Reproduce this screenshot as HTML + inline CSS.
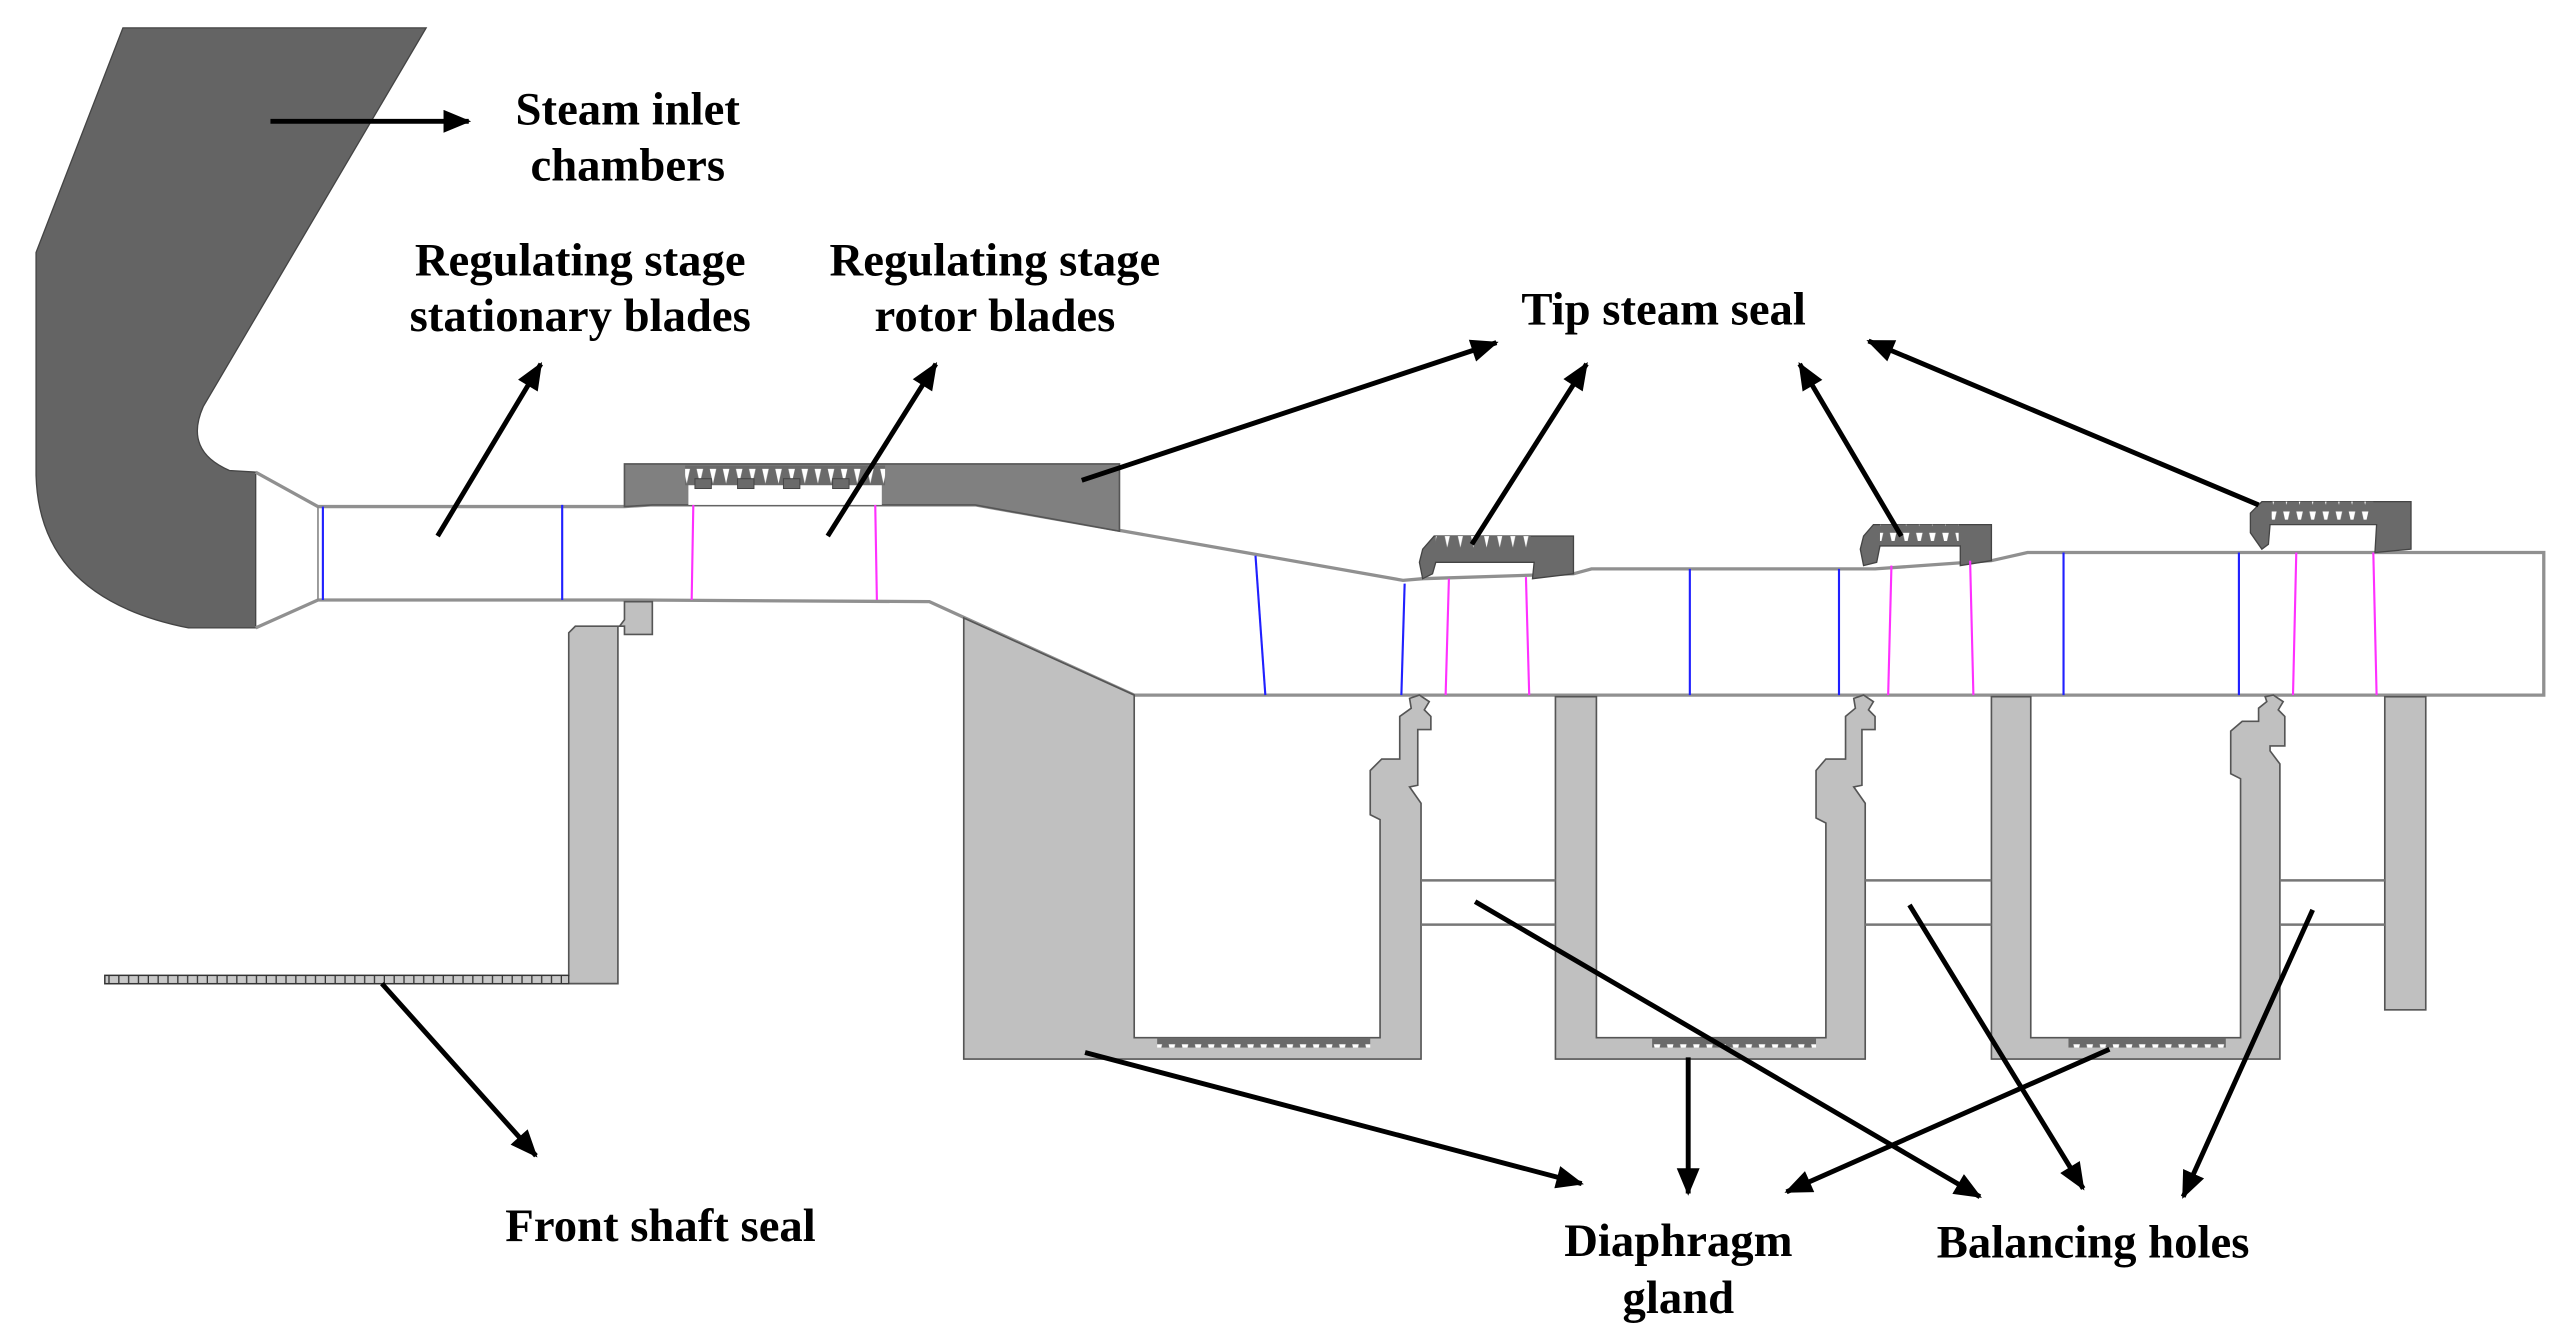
<!DOCTYPE html>
<html><head><meta charset="utf-8"><style>
html,body{margin:0;padding:0;background:#fff;}
svg{display:block;}
text{font-family:"Liberation Serif",serif;font-weight:bold;font-size:28.5px;fill:#000;text-anchor:middle;}
</style></head><body>
<svg width="2570" height="1341" viewBox="0 0 1568 818" preserveAspectRatio="none" xmlns="http://www.w3.org/2000/svg">
<defs>
<marker id="a" viewBox="0 0 12 10" refX="11" refY="5" markerWidth="17" markerHeight="14" markerUnits="userSpaceOnUse" orient="auto"><path d="M0,0 L12,5 L0,10 z" fill="#000"/></marker>
<pattern id="teeth" width="8" height="13" patternUnits="userSpaceOnUse"><rect width="8" height="13" fill="#6a6a6a"/><path d="M1,0 L3,9 L5,0 z" fill="#fff"/></pattern>
<pattern id="st" width="6" height="5" patternUnits="userSpaceOnUse"><rect width="6" height="5" fill="#c8c8c8"/><line x1="0.5" y1="0" x2="0.5" y2="5" stroke="#333" stroke-width="0.8"/></pattern>
</defs>

<path d="M75,17 L260,17 L124,248 Q112,275 140,287 L156,288 L156,383 L115,383 Q24,365 22,290 L22,154 Z" fill="#646464" stroke="#444" stroke-width="0.8"/>

<g fill="none" stroke="#909090" stroke-width="2">
<path d="M156,288 L194,309 L381,309 L398,308 L595,308 L856,354 L868,353 L960,350 L971,347 L1144,347 L1215,342 L1237,337 L1552,337 L1552,424 L692,424 L567,367 L389,366 L194,366 L156,383"/>
</g>
<line x1="194" y1="309" x2="194" y2="366" stroke="#888" stroke-width="1"/>

<path d="M381,283 L683,283 L683,324 L595,308 L398,308 L381,309 Z" fill="#808080" stroke="#555" stroke-width="1"/>
<rect x="418" y="284" width="122" height="12" fill="url(#teeth)"/>
<rect x="420" y="296" width="118" height="12" fill="#fff"/>
<g fill="#6a6a6a" stroke="#444" stroke-width="0.6">
<rect x="424" y="292" width="10" height="6"/><rect x="450" y="292" width="10" height="6"/><rect x="478" y="292" width="10" height="6"/><rect x="508" y="292" width="10" height="6"/>
</g>

<g fill="#6a6a6a" stroke="#444" stroke-width="0.8">
<path d="M868,353 L866,343 L868,335 L875,327 L960,327 L960,350 L935,353 L936,343 L876,343 L874,350 Z"/>
<path d="M1137,345 L1135,335 L1137,327 L1143,320 L1215,320 L1215,342 L1196,345 L1196,333 L1147,333 L1145,343 Z"/>
<path d="M1380,335 L1373,325 L1373,313 L1380,306 L1471,306 L1471,335 L1449,337 L1450,320 L1385,320 L1384,332 Z"/>
</g>
<rect x="876" y="327" width="58" height="10" fill="url(#teeth)"/>
<rect x="1147" y="320" width="48" height="10" fill="url(#teeth)"/>
<rect x="1386" y="306" width="62" height="11" fill="url(#teeth)"/>

<g stroke="#2020ff" stroke-width="1.3">
<line x1="197" y1="309" x2="197" y2="366"/><line x1="343" y1="308" x2="343" y2="366"/>
<line x1="766" y1="339" x2="772" y2="424"/><line x1="857" y1="356" x2="855" y2="424"/>
<line x1="1031" y1="347" x2="1031" y2="424"/><line x1="1122" y1="347" x2="1122" y2="424"/>
<line x1="1259" y1="337" x2="1259" y2="424"/><line x1="1366" y1="337" x2="1366" y2="424"/>
</g>
<g stroke="#ff30ff" stroke-width="1.3">
<line x1="423" y1="308" x2="422" y2="366"/><line x1="534" y1="308" x2="535" y2="366"/>
<line x1="884" y1="353" x2="882" y2="424"/><line x1="931" y1="352" x2="933" y2="424"/>
<line x1="1154" y1="345" x2="1152" y2="424"/><line x1="1202" y1="342" x2="1204" y2="424"/>
<line x1="1401" y1="337" x2="1399" y2="424"/><line x1="1448" y1="337" x2="1450" y2="424"/>
</g>

<g fill="#c0c0c0" stroke="#555" stroke-width="1">
<path d="M381,367 L398,367 L398,387 L381,387 L381,382 L377,382 L377,600 L64,600 L64,595 L347,595 L347,386 L351,382 L378,382 L381,378 Z"/>
<path d="M588,377 L692,424 L692,633 L842,633 L842,500 L836,497 L836,470 L843,463 L854,463 L854,437 L861,432 L860,426 L866,424 L872,428 L869,433 L873,437 L873,445 L865,445 L865,479 L860,480 L867,490 L867,646 L588,646 Z"/>
<path d="M949,425 L974,425 L974,633 L1114,633 L1114,502 L1108,499 L1108,470 L1114,463 L1126,463 L1126,437 L1132,432 L1131,426 L1137,424 L1143,428 L1140,433 L1144,437 L1144,445 L1136,445 L1136,479 L1131,480 L1138,490 L1138,646 L949,646 Z"/>
<path d="M1215,425 L1239,425 L1239,633 L1367,633 L1367,475 L1361,472 L1361,446 L1368,440 L1378,440 L1378,432 L1383,428 L1382,425 L1387,424 L1393,428 L1390,433 L1394,437 L1394,455 L1385,455 L1385,458 L1391,466 L1391,646 L1215,646 Z"/>
<rect x="1455" y="425" width="25" height="191"/>
</g>
<rect x="706" y="633" width="130" height="6" fill="url(#teeth)"/>
<rect x="1008" y="633" width="100" height="6" fill="url(#teeth)"/>
<rect x="1262" y="633" width="96" height="6" fill="url(#teeth)"/>
<rect x="64" y="595" width="283" height="5" fill="url(#st)" stroke="#333" stroke-width="0.8"/>
<g stroke="#777" stroke-width="1.5">
<line x1="867" y1="537" x2="949" y2="537"/><line x1="867" y1="564" x2="949" y2="564"/>
<line x1="1138" y1="537" x2="1215" y2="537"/><line x1="1138" y1="564" x2="1215" y2="564"/>
<line x1="1391" y1="537" x2="1455" y2="537"/><line x1="1391" y1="564" x2="1455" y2="564"/>
</g>

<g stroke="#000" stroke-width="3" marker-end="url(#a)">
<line x1="165" y1="74" x2="286" y2="74"/>
<line x1="267" y1="327" x2="330" y2="222"/>
<line x1="505" y1="327" x2="571" y2="222"/>
<line x1="660" y1="293" x2="913" y2="209"/>
<line x1="898" y1="332" x2="968" y2="222"/>
<line x1="1160" y1="327" x2="1098" y2="222"/>
<line x1="1378" y1="308" x2="1140" y2="208"/>
<line x1="233" y1="600" x2="327" y2="705"/>
<line x1="662" y1="642" x2="965" y2="722"/>
<line x1="1030" y1="645" x2="1030" y2="728"/>
<line x1="1287" y1="640" x2="1090" y2="727"/>
<line x1="900" y1="550" x2="1208" y2="730"/>
<line x1="1165" y1="552" x2="1271" y2="725"/>
<line x1="1411" y1="555" x2="1332" y2="730"/>
</g>

<text x="383" y="76">Steam inlet</text>
<text x="383" y="110">chambers</text>
<text x="354" y="168">Regulating stage</text>
<text x="354" y="202">stationary blades</text>
<text x="607" y="168">Regulating stage</text>
<text x="607" y="202">rotor blades</text>
<text x="1015" y="198">Tip steam seal</text>
<text x="403" y="757">Front shaft seal</text>
<text x="1024" y="766">Diaphragm</text>
<text x="1024" y="801">gland</text>
<text x="1277" y="767">Balancing holes</text>
</svg>
</body></html>
